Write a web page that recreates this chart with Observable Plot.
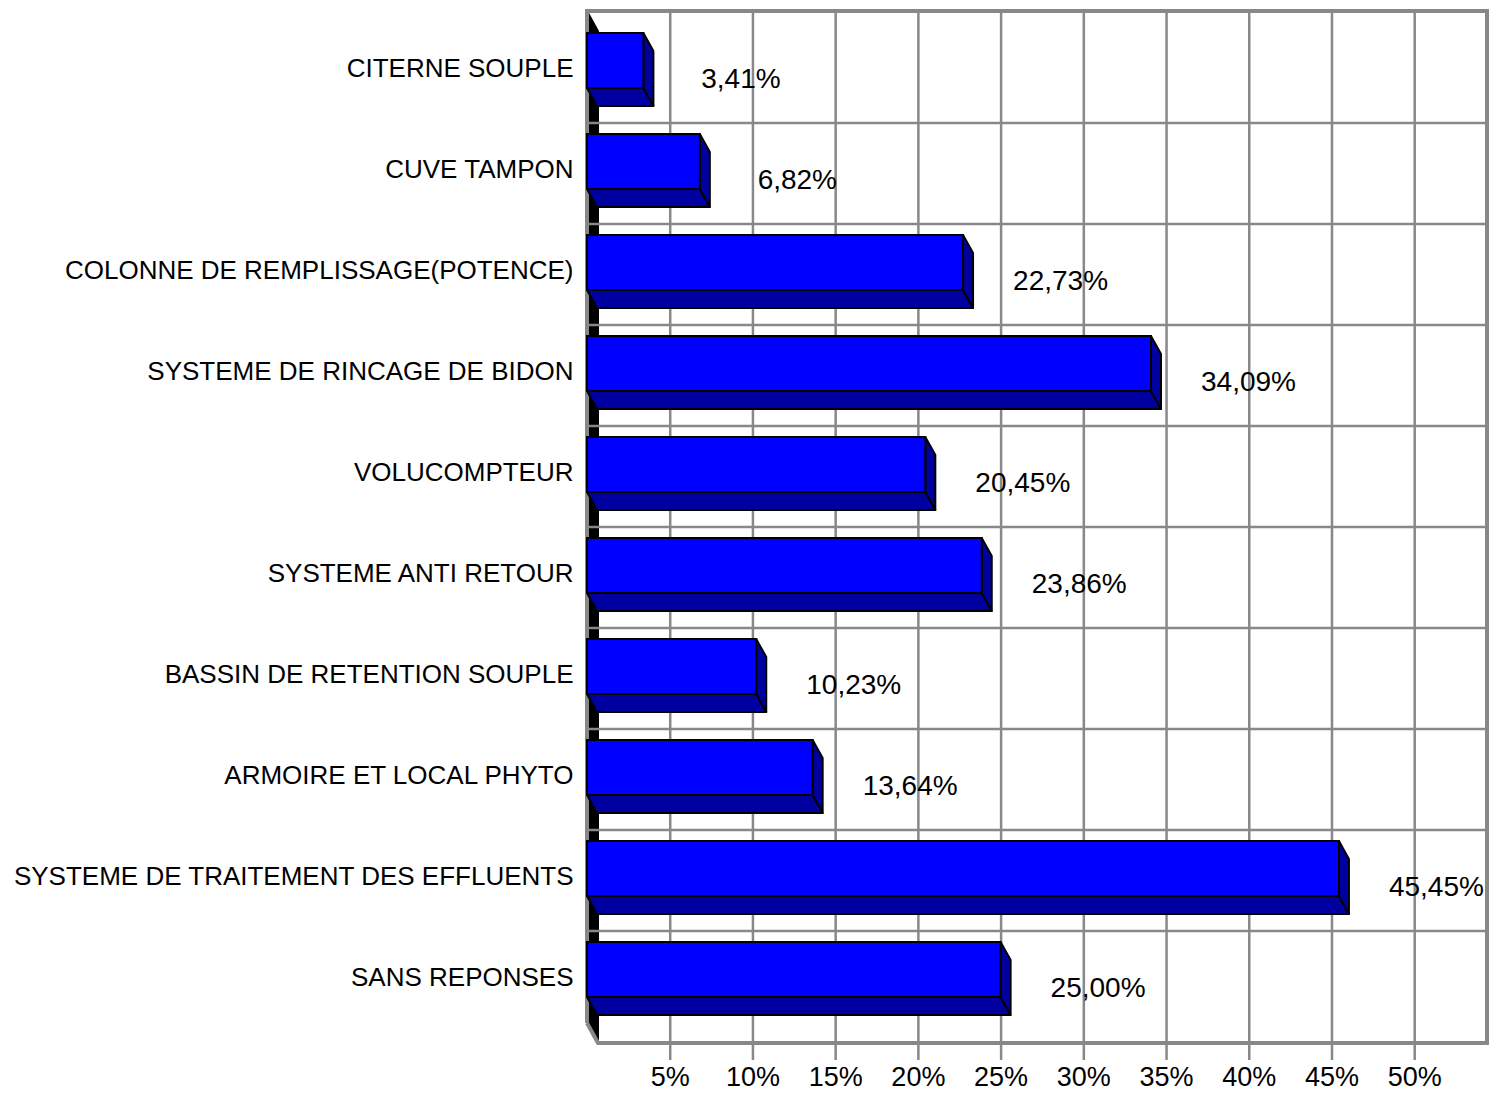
<!DOCTYPE html>
<html><head><meta charset="utf-8">
<script src="https://cdn.jsdelivr.net/npm/d3@7"></script>
<script src="https://cdn.jsdelivr.net/npm/@observablehq/plot@0.6"></script>
<style>body{margin:0;background:#fff} svg{display:block}</style>
</head><body><div id="chart"></div>
<script>
const categories = [
  "CITERNE SOUPLE",
  "CUVE TAMPON",
  "COLONNE DE REMPLISSAGE(POTENCE)",
  "SYSTEME DE RINCAGE DE BIDON",
  "VOLUCOMPTEUR",
  "SYSTEME ANTI RETOUR",
  "BASSIN DE RETENTION SOUPLE",
  "ARMOIRE ET LOCAL PHYTO",
  "SYSTEME DE TRAITEMENT DES EFFLUENTS",
  "SANS REPONSES"
];
const values = [3.41, 6.82, 22.73, 34.09, 20.45, 23.86, 10.23, 13.64, 45.45, 25.00];
const valueLabels = ["3,41%", "6,82%", "22,73%", "34,09%", "20,45%", "23,86%", "10,23%", "13,64%", "45,45%", "25,00%"];
const xTicks = [5, 10, 15, 20, 25, 30, 35, 40, 45, 50];
const xTickLabels = ["5%", "10%", "15%", "20%", "25%", "30%", "35%", "40%", "45%", "50%"];

const data = categories.map((c, i) => ({category: c, value: values[i], label: valueLabels[i]}));

const GRAY = "#888888";
const FRONT = "#0000ff";
const SIDE = "#0000a0";
const DX = 10, DY = 18;       // 3D depth offset
const INSET_TOP = 11, INSET_BOTTOM = 35;
const WALL_DX = 12, WALL_DY = 20;

function ns(tag) { return document.createElementNS("http://www.w3.org/2000/svg", tag); }

// 3D bar rendering: front rectangle from Plot, plus bottom and right faces
function bar3d(index, scales, vals, dims, context, next) {
  const g = ns("g");
  const bw = scales.y.bandwidth();
  for (const i of index) {
    const x0 = Math.min(vals.x1[i], vals.x2[i]);
    const x1 = Math.max(vals.x1[i], vals.x2[i]);
    const yT = vals.y[i] + INSET_TOP;
    const yB = vals.y[i] + bw - INSET_BOTTOM;
    const bottom = ns("polygon");
    bottom.setAttribute("points", `${x0},${yB} ${x1},${yB} ${x1 + DX},${yB + DY} ${x0 + DX},${yB + DY}`);
    bottom.setAttribute("fill", SIDE);
    bottom.setAttribute("stroke", "#000");
    bottom.setAttribute("stroke-width", 2);
    bottom.setAttribute("stroke-linejoin", "round");
    g.appendChild(bottom);
    const right = ns("polygon");
    right.setAttribute("points", `${x1},${yT} ${x1 + DX},${yT + DY} ${x1 + DX},${yB + DY} ${x1},${yB}`);
    right.setAttribute("fill", SIDE);
    right.setAttribute("stroke", "#000");
    right.setAttribute("stroke-width", 2);
    right.setAttribute("stroke-linejoin", "round");
    g.appendChild(right);
  }
  const front = next(index, scales, vals, dims, context);
  if (front) g.appendChild(front);
  return g;
}

// Chart chrome: left wall, horizontal grid lines (between bands), frame
function chrome(index, scales, vals, dims) {
  const {width, height, marginLeft: mL, marginRight: mR, marginTop: mT, marginBottom: mB} = dims;
  const g = ns("g");
  const right = width - mR, floor = height - mB;
  const wall = ns("polygon");
  wall.setAttribute("points", `${mL + 1},${mT} ${mL + WALL_DX},${mT + WALL_DY} ${mL + WALL_DX},${floor} ${mL + 1},${floor - WALL_DY}`);
  wall.setAttribute("fill", "#000");
  g.appendChild(wall);
  for (const c of categories.slice(1)) {
    const y = scales.y(c);
    const l = ns("line");
    l.setAttribute("x1", mL); l.setAttribute("x2", right);
    l.setAttribute("y1", y); l.setAttribute("y2", y);
    l.setAttribute("stroke", GRAY); l.setAttribute("stroke-width", 2.5);
    g.appendChild(l);
  }
  const frame = ns("path");
  frame.setAttribute("d", `M${mL},${floor - WALL_DY}L${mL},${mT}L${right},${mT}L${right},${floor}L${mL + WALL_DX - 1},${floor}L${mL},${floor - WALL_DY}`);
  frame.setAttribute("fill", "none");
  frame.setAttribute("stroke", GRAY);
  frame.setAttribute("stroke-width", 4);
  frame.setAttribute("stroke-linejoin", "miter");
  g.appendChild(frame);
  return g;
}

const chart = Plot.plot({
  width: 1491,
  height: 1093,
  marginLeft: 587,
  marginRight: 4,
  marginTop: 11,
  marginBottom: 50,
  style: {fontFamily: "'Liberation Sans', Arial, sans-serif", background: "#fff", overflow: "visible"},
  x: {domain: [0, 54.4], label: null},
  y: {type: "band", domain: categories, paddingInner: 0, paddingOuter: 0.08, label: null},
  marks: [
    Plot.gridX({ticks: xTicks, stroke: GRAY, strokeOpacity: 1, strokeWidth: 2.5}),
    chrome,
    Plot.axisX({
      ticks: xTicks,
      tickFormat: d => xTickLabels[xTicks.indexOf(d)],
      tickSize: 17, tickPadding: 6,
      stroke: GRAY, strokeWidth: 2.5,
      fontSize: 27, fill: "#000", label: null
    }),
    Plot.axisY({tickSize: 0, tickPadding: 14, fontSize: 26, dy: -4, fill: "#000", label: null}),
    Plot.barX(data, {
      x: "value", y: "category",
      fill: FRONT, stroke: "#000", strokeWidth: 2,
      insetTop: INSET_TOP, insetBottom: INSET_BOTTOM,
      render: bar3d
    }),
    Plot.text(data, {x: "value", y: "category", text: "label", dx: 97, dy: 6, fontSize: 28, textAnchor: "middle", fill: "#000"})
  ]
});
document.getElementById("chart").appendChild(chart);
</script>
</body></html>
